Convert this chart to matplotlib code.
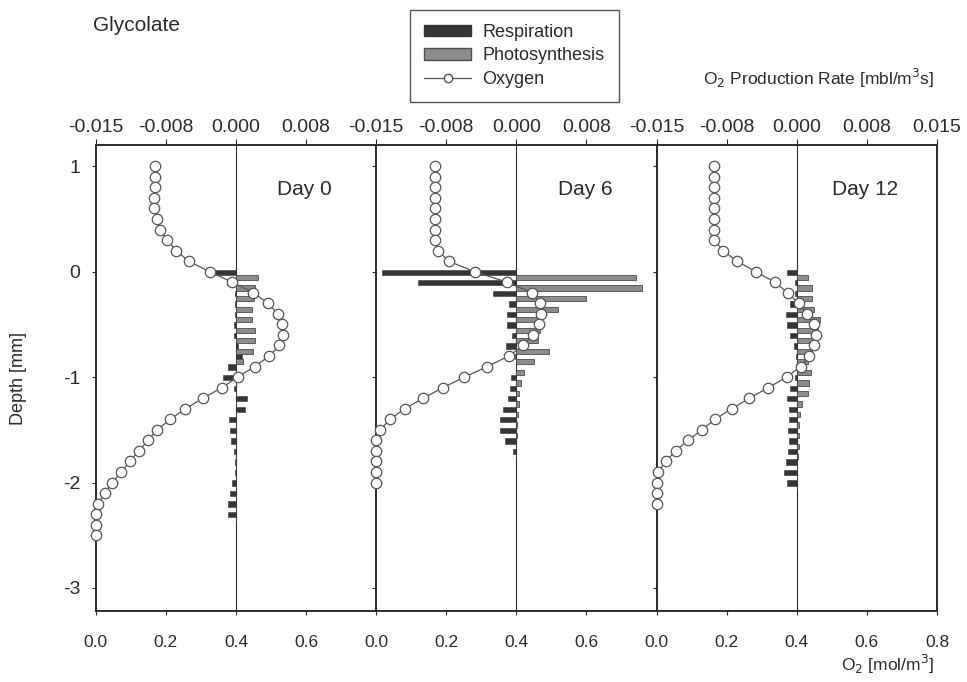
import matplotlib
matplotlib.use('Agg')
import matplotlib.pyplot as plt
from matplotlib.patches import Patch
from matplotlib.lines import Line2D

plt.rcParams['font.family'] = ['Liberation Sans', 'DejaVu Sans']

# ---- data ----
days = ['Day 0', 'Day 6', 'Day 12']

# oxygen profiles (depth in mm, O2 in mol/m3)
o2_depth_0 = [1.0, 0.9, 0.8, 0.7, 0.6, 0.5, 0.4, 0.3, 0.2, 0.1, 0.0, -0.1, -0.2, -0.3, -0.4, -0.5,
              -0.6, -0.7, -0.8, -0.9, -1.0, -1.1, -1.2, -1.3, -1.4, -1.5, -1.6, -1.7, -1.8, -1.9,
              -2.0, -2.1, -2.2, -2.3, -2.4, -2.5]
o2_day_0 = [0.169, 0.169, 0.169, 0.166, 0.166, 0.175, 0.183, 0.204, 0.230, 0.265, 0.325, 0.390,
            0.450, 0.492, 0.519, 0.532, 0.535, 0.524, 0.495, 0.453, 0.405, 0.360, 0.306, 0.256,
            0.213, 0.175, 0.149, 0.123, 0.097, 0.073, 0.047, 0.026, 0.007, 0.0, 0.0, 0.0]

o2_depth_6 = [1.0, 0.9, 0.8, 0.7, 0.6, 0.5, 0.4, 0.3, 0.2, 0.1, 0.0, -0.1, -0.2, -0.3, -0.4, -0.5,
              -0.6, -0.7, -0.8, -0.9, -1.0, -1.1, -1.2, -1.3, -1.4, -1.5, -1.6, -1.7, -1.8, -1.9,
              -2.0]
o2_day_6 = [0.169, 0.169, 0.169, 0.169, 0.169, 0.169, 0.169, 0.169, 0.176, 0.207, 0.281, 0.374,
            0.444, 0.468, 0.469, 0.464, 0.447, 0.420, 0.378, 0.317, 0.252, 0.190, 0.135, 0.081,
            0.040, 0.011, 0.0, 0.0, 0.0, 0.0, 0.0]

o2_depth_12 = [1.0, 0.9, 0.8, 0.7, 0.6, 0.5, 0.4, 0.3, 0.2, 0.1, 0.0, -0.1, -0.2, -0.3, -0.4, -0.5,
               -0.6, -0.7, -0.8, -0.9, -1.0, -1.1, -1.2, -1.3, -1.4, -1.5, -1.6, -1.7, -1.8, -1.9,
               -2.0, -2.1, -2.2]
o2_day_12 = [0.165, 0.165, 0.165, 0.165, 0.165, 0.165, 0.165, 0.165, 0.189, 0.230, 0.283, 0.338,
             0.374, 0.405, 0.429, 0.448, 0.454, 0.449, 0.435, 0.411, 0.371, 0.319, 0.265, 0.214,
             0.167, 0.129, 0.090, 0.054, 0.026, 0.005, 0.0, 0.0, 0.0]

# production rates (mbl/m3s)
rate_depth_0 = [0.0, -0.1, -0.2, -0.3, -0.4, -0.5, -0.6, -0.7, -0.8, -0.9, -1.0, -1.1, -1.2,
                -1.3, -1.4, -1.5, -1.6, -1.7, -1.8, -1.9, -2.0, -2.1, -2.2, -2.3]
resp_0 = [-0.0023, -0.0010, -0.0001, -0.0001, -0.0001, -0.0002, -0.0002, 0.0002, 0.0007, -0.0009,
          -0.0014, -0.0002, 0.0012, 0.0010, -0.0007, -0.00065, -0.0005, -0.0002, -0.00015,
          -0.00015, -0.0004, -0.0006, -0.0009, -0.0008]
photo_0 = [0.0024, 0.0020, 0.0019, 0.0017, 0.0017, 0.0020, 0.0020, 0.0018, 0.0008, 0.0, 0.0, 0.0,
           0.0, 0.0, 0.0, 0.0, 0.0, 0.0, 0.0, 0.0, 0.0, 0.0, 0.0, 0.0]

rate_depth_6 = [0.0, -0.1, -0.2, -0.3, -0.4, -0.5, -0.6, -0.7, -0.8, -0.9, -1.0, -1.1, -1.2,
                -1.3, -1.4, -1.5, -1.6, -1.7]
resp_6 = [-0.0144, -0.0105, -0.0025, -0.0008, -0.0010, -0.0010, -0.0005, -0.0011, -0.0001, 0.0,
          -0.0006, -0.0007, -0.0009, -0.0014, -0.0017, -0.0017, -0.0012, -0.0004]
photo_6 = [0.0128, 0.0134, 0.0075, 0.0044, 0.0024, 0.0025, 0.0023, 0.0035, 0.0019, 0.0008,
           0.0005, 0.0003, 0.0003, 0.0002, 0.0001, 0.0001, 0.0, 0.0]

rate_depth_12 = [0.0, -0.1, -0.2, -0.3, -0.4, -0.5, -0.6, -0.7, -0.8, -0.9, -1.0, -1.1, -1.2,
                 -1.3, -1.4, -1.5, -1.6, -1.7, -1.8, -1.9, -2.0]
resp_12 = [-0.0011, -0.0002, -0.0002, -0.0007, -0.0012, -0.0011, -0.0007, -0.00025, -0.0001,
           -0.0001, -0.0002, -0.0007, -0.0010, -0.0008, -0.0008, -0.0009, -0.0008, -0.0009,
           -0.0012, -0.0014, -0.0010]
photo_12 = [0.0012, 0.0016, 0.0016, 0.0018, 0.0025, 0.0023, 0.0020, 0.0016, 0.0012, 0.0015,
            0.0013, 0.0012, 0.0006, 0.00035, 0.00025, 0.0002, 0.0002, 0.0001, 0.0, 0.0, 0.0]

panels = [
    (days[0], o2_depth_0, o2_day_0, rate_depth_0, resp_0, photo_0),
    (days[1], o2_depth_6, o2_day_6, rate_depth_6, resp_6, photo_6),
    (days[2], o2_depth_12, o2_day_12, rate_depth_12, resp_12, photo_12),
]

rate_ticks = [-0.015, -0.0075, 0.0, 0.0075, 0.015]
rate_labels = ['-0.015', '-0.008', '0.000', '0.008', '0.015']
o2_ticks = [0.0, 0.2, 0.4, 0.6, 0.8]
o2_labels = ['0.0', '0.2', '0.4', '0.6', '0.8']
depth_ticks = [1, 0, -1, -2, -3]

# ---- colours ----
ink = '#2b2b2b'
resp_col = '#353535'
photo_col = '#8c8c8c'
line_col = '#555555'

fig = plt.figure(figsize=(9.67, 6.82), dpi=100)
left, right, bottom, top = 0.099, 0.969, 0.104, 0.787
w = (right - left) / 3

for i, (name, od, ov, rd, resp, photo) in enumerate(panels):
    ax = fig.add_axes([left + i * w, bottom, w, top - bottom])
    ax2 = ax.twiny()  # oxygen axis, drawn above the bars

    # bars: respiration slightly above, photosynthesis below each depth
    ax.barh([d - 0.005 for d in rd], resp, height=0.05, color=resp_col,
            edgecolor=resp_col, linewidth=0.4, zorder=2)
    ax.barh([d - 0.055 for d in rd], photo, height=0.05, color=photo_col,
            edgecolor='#4a4a4a', linewidth=0.6, zorder=2)
    ax.axvline(0, color=ink, lw=0.8, zorder=1)
    ax.set_xlim(-0.015, 0.015)
    ax.set_ylim(-3.22, 1.2)

    n = 5 if i == 2 else 4
    ax.xaxis.tick_top()
    ax.set_xticks(rate_ticks[:n])
    ax.set_xticklabels(rate_labels[:n], fontsize=14, color=ink)
    ax.tick_params(axis='x', direction='out', length=4, width=0.8, pad=3, colors=ink)

    ax.set_yticks(depth_ticks)
    if i == 0:
        ax.set_yticklabels([str(t) for t in depth_ticks], fontsize=14, color=ink)
        ax.set_ylabel('Depth [mm]', fontsize=13, color=ink, labelpad=26)
    else:
        ax.set_yticklabels([])
    ax.tick_params(axis='y', direction='out', length=3, width=0.8, pad=8, colors=ink)

    for s in ax.spines.values():
        s.set_linewidth(1.4)
        s.set_color(ink)

    # oxygen profile on bottom axis
    ax2.xaxis.tick_bottom()
    ax2.plot(ov, od, '-o', color=line_col, lw=0.9, ms=7.5, mfc='white',
             mec=line_col, mew=0.9, zorder=3, clip_on=False)
    ax2.set_xlim(0, 0.8)
    ax2.set_xticks(o2_ticks[:n])
    ax2.set_xticklabels(o2_labels[:n], fontsize=12.5, color=ink)
    ax2.tick_params(axis='x', direction='out', length=3, width=0.8, pad=14, colors=ink)
    for s in ax2.spines.values():
        s.set_visible(False)

    ax.text(0.745, 0.905, name, transform=ax.transAxes, ha='center', va='center',
            fontsize=15, color=ink)

fig.text(0.096, 0.963, 'Glycolate', fontsize=15, color=ink, ha='left', va='center')
fig.text(0.966, 0.885, 'O$_2$ Production Rate [mbl/m$^3$s]', fontsize=12.5, color=ink,
         ha='right', va='center')
fig.text(0.966, 0.025, 'O$_2$ [mol/m$^3$]', fontsize=12.5, color=ink, ha='right', va='center')

handles = [
    Patch(facecolor=resp_col, edgecolor=resp_col),
    Patch(facecolor=photo_col, edgecolor='#4a4a4a'),
    Line2D([], [], color=line_col, lw=0.9, marker='o', ms=6, mfc='white', mec=line_col),
]
leg = fig.legend(handles, ['Respiration', 'Photosynthesis', 'Oxygen'],
                 loc='upper left', bbox_to_anchor=(0.424, 0.986), borderaxespad=0,
                 fontsize=13, frameon=True, fancybox=False, edgecolor=ink,
                 handlelength=2.6, handleheight=0.6, labelspacing=0.35, borderpad=0.8,
                 handletextpad=0.6)
leg.get_frame().set_linewidth(1.0)
for t in leg.get_texts():
    t.set_color(ink)

fig.savefig('out.png', dpi=100)
